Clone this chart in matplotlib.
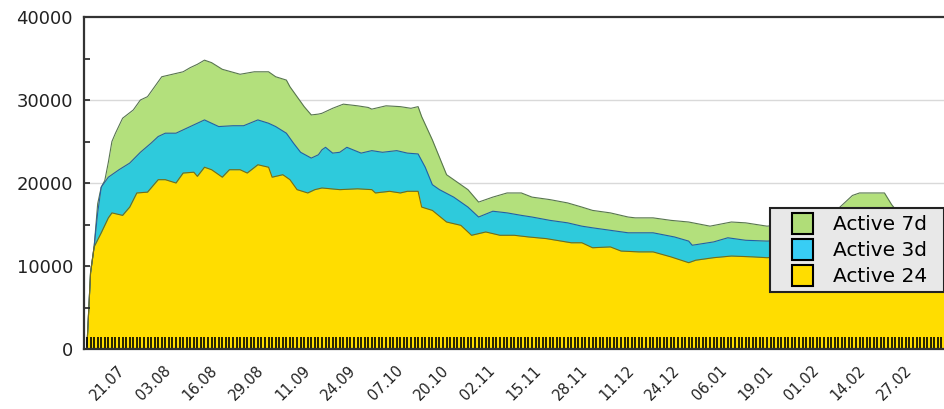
import matplotlib
matplotlib.use('Agg')
import matplotlib.pyplot as plt
from matplotlib.patches import Patch, Rectangle
from matplotlib.legend_handler import HandlerPatch
from matplotlib.ticker import MultipleLocator
from matplotlib.transforms import ScaledTranslation

# ---- data (day index 0 = 10.07) ----
tick_labels = ['21.07', '03.08', '16.08', '29.08', '11.09', '24.09', '07.10', '20.10',
               '02.11', '15.11', '28.11', '11.12', '24.12', '06.01', '19.01', '01.02',
               '14.02', '27.02']
first_label_day = 11
label_step = 13

days_7d = [0, 1, 2, 3, 4, 5, 6, 7, 8, 10, 13, 15, 17, 18, 19, 21, 24, 27, 29, 31, 33, 35,
           38, 43, 47, 51, 53, 56, 57, 59, 61, 63, 65, 66, 69, 72, 76, 79, 80, 84, 88, 91,
           93, 94, 97, 99, 101, 104, 107, 110, 114, 118, 122, 125, 130, 135, 139, 142, 147,
           152, 154, 159, 164, 169, 175, 181, 185, 191, 196, 205, 208, 211, 213, 215, 217,
           224, 226, 229, 235, 241]
active_7d = [500, 9200, 12300, 17500, 19500, 20300, 22500, 25000, 26000, 27800, 28800, 30000,
             30400, 31000, 31600, 32800, 33100, 33400, 33900, 34300, 34800, 34500, 33700,
             33100, 33400, 33400, 32800, 32400, 31600, 30400, 29200, 28200, 28300, 28400,
             29000, 29500, 29300, 29100, 28900, 29300, 29200, 29000, 29200, 28000, 25200,
             23100, 21000, 20100, 19200, 17700, 18300, 18800, 18800, 18300, 18000, 17600,
             17100, 16700, 16400, 15900, 15800, 15800, 15500, 15300, 14800, 15300, 15200,
             14800, 15000, 15500, 16000, 16900, 17700, 18500, 18800, 18800, 17400, 15800,
             15300, 15000]

days_3d = [0, 1, 2, 3, 4, 6, 9, 12, 15, 18, 20, 22, 25, 28, 31, 33, 35, 37, 41, 44, 48, 51,
           53, 56, 58, 60, 63, 65, 66, 67, 69, 71, 73, 77, 80, 83, 87, 90, 93, 95, 97, 99,
           103, 107, 110, 114, 118, 122, 125, 130, 135, 139, 142, 147, 152, 155, 159, 165,
           169, 170, 176, 180, 185, 191, 200, 210, 220, 230, 241]
active_3d = [500, 9200, 12300, 16400, 19500, 20700, 21600, 22400, 23700, 24800, 25600, 26000,
             26000, 26600, 27200, 27600, 27200, 26800, 26900, 26900, 27600, 27200, 26800,
             26000, 24800, 23700, 23000, 23400, 24000, 24300, 23600, 23700, 24300, 23600,
             23900, 23700, 23900, 23600, 23500, 21900, 19800, 19200, 18300, 17100, 15900,
             16600, 16400, 16100, 15900, 15500, 15200, 14800, 14600, 14300, 14000, 14000,
             14000, 13500, 13000, 12500, 12900, 13400, 13100, 13000, 13200, 13600, 14000,
             13500, 13200]

days_24 = [0, 1, 2, 4, 6, 7, 10, 12, 14, 17, 20, 22, 25, 27, 30, 31, 33, 35, 38, 40, 43, 45,
           48, 51, 52, 55, 57, 59, 62, 64, 66, 71, 76, 80, 81, 85, 88, 90, 93, 94, 97, 101,
           105, 108, 112, 116, 120, 124, 129, 136, 139, 142, 147, 150, 155, 159, 164, 169,
           171, 176, 181, 187, 191, 200, 210, 220, 230, 241]
active_24 = [300, 9200, 12300, 14000, 15800, 16400, 16100, 17100, 18800, 18900, 20400, 20400,
             20000, 21200, 21300, 20800, 21900, 21600, 20700, 21600, 21600, 21200, 22200,
             21900, 20700, 21000, 20400, 19200, 18800, 19200, 19400, 19200, 19300, 19200,
             18800, 19000, 18800, 19000, 19000, 17100, 16700, 15300, 14900, 13700, 14100,
             13700, 13700, 13500, 13300, 12800, 12800, 12200, 12300, 11800, 11700, 11700,
             11100, 10400, 10700, 11000, 11200, 11100, 11000, 11300, 11600, 11800, 11500,
             11200]

series_names = ['Active 7d', 'Active 3d', 'Active 24']

# ---- styles ----
fill_colors = ['#b3e07c', '#2ecadc', '#ffdd00']
edge_colors = ['#58764e', '#2060a8', '#7a6c10']
legend_colors = ['#b0dd78', '#38cdf5', '#ffdd00']

fig = plt.figure(figsize=(9.45, 4.09), dpi=100)
W, H = 945, 409
ax = fig.add_axes([84 / W, 1 - 349 / H, 1 - 84 / W, (349 - 17) / H])

for gy in [10000, 20000, 30000]:
    ax.axhline(gy, color='#d9d9d9', lw=1, zorder=0)

for (dx, vy), fc, ec in zip([(days_7d, active_7d), (days_3d, active_3d), (days_24, active_24)],
                            fill_colors, edge_colors):
    ax.fill_between(dx, vy, 0, color=fc, lw=0, zorder=1)
    ax.plot(dx, vy, color=ec, lw=0.8, zorder=1.2)

ax.set_xlim(-0.84, 241)
ax.set_ylim(0, 40000)

tick_days = [first_label_day + label_step * i for i in range(len(tick_labels))]
ax.set_xticks(tick_days)
ax.set_xticklabels(tick_labels, rotation=45, ha='right', rotation_mode='anchor',
                   fontsize=10.5, color='#222222')
ax.xaxis.set_minor_locator(MultipleLocator(1))
ax.tick_params(axis='x', which='both', direction='in', length=9, width=1.2,
               color='black', pad=8)
shift = ScaledTranslation(-9 / 100, -3 / 100, fig.dpi_scale_trans)
for lbl in ax.get_xticklabels():
    lbl.set_transform(lbl.get_transform() + shift)

ax.set_yticks([0, 10000, 20000, 30000, 40000])
ax.yaxis.set_minor_locator(MultipleLocator(5000))
ax.tick_params(axis='y', which='both', direction='in', length=4, width=1.2,
               color='#222222', labelsize=13, labelcolor='#222222', pad=8)

for s in ['top', 'left', 'bottom']:
    ax.spines[s].set_color('#333333')
    ax.spines[s].set_linewidth(1.6)
    ax.spines[s].set_zorder(3)
ax.spines['right'].set_visible(False)


def square_patch(legend, orig_handle, xdescent, ydescent, width, height, fontsize):
    side = 15.0  # points (~21 px)
    return Rectangle((width - side - xdescent, -ydescent + (height - side) / 2 - 0.5),
                     side, side)


handles = [Patch(facecolor=c, edgecolor='black', linewidth=1.5) for c in legend_colors]
leg = ax.legend(handles, series_names, loc='upper left',
                bbox_to_anchor=(770 / W, 1 - 295 / H, 174 / W, 87 / H),
                bbox_transform=fig.transFigure, mode='expand',
                borderaxespad=0, fancybox=False, framealpha=1, facecolor='#e8e8e8',
                edgecolor='#222222', fontsize=14.5, handlelength=1.85, handleheight=1.0,
                handletextpad=1.0, labelspacing=0.3, borderpad=0.3,
                handler_map={Patch: HandlerPatch(patch_func=square_patch)})
leg.get_frame().set_linewidth(1.5)
leg.set_zorder(5)

fig.savefig('out.png', dpi=100)
